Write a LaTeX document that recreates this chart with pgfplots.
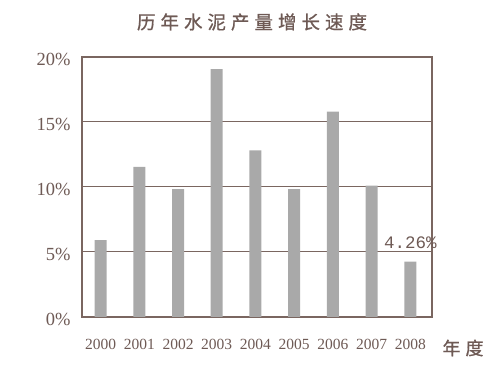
\documentclass[border=0pt]{standalone}
\usepackage{pgfplots}
\pgfplotsset{compat=1.18}
\usepackage{fontspec}
\setmainfont{Liberation Serif}
\newfontfamily\cjk[FakeBold=0.8]{Noto Sans CJK SC}
\newfontfamily\monof{Liberation Mono}
\definecolor{txt}{HTML}{6E5A55}
\definecolor{frm}{HTML}{7A6660}
\definecolor{bar}{HTML}{A9A9A9}
\begin{document}
\begin{tikzpicture}
\useasboundingbox (0pt,0pt) rectangle (500pt,371pt);
\begin{axis}[
  at={(82pt,54pt)}, anchor=south west,
  width=350pt, height=260pt, scale only axis,
  xmin=-0.48, xmax=8.56, ymin=0, ymax=20,
  ytick={0,5,10,15,20},
  yticklabels={0\%,5\%,10\%,15\%,20\%},
  xtick={0,1,2,3,4,5,6,7,8},
  xticklabels={2000,2001,2002,2003,2004,2005,2006,2007,2008},
  major tick length=0pt,
  /pgf/number format/assume math mode=true,
  axis line style={frm, line width=1.1pt},
  ymajorgrids, grid style={frm, line width=1pt},
  yticklabel style={font=\fontsize{18.5}{20}\selectfont, text=txt, anchor=east, xshift=-8pt, yshift=-2pt},
  xticklabel style={font=\fontsize{15.5}{17}\selectfont, text=txt, anchor=base, yshift=-33pt},
  clip=false,
]
\addplot[ybar, bar width=12pt, fill=bar, draw=none] coordinates {
  (0,5.91) (1,11.55) (2,9.84) (3,19.07) (4,12.82) (5,9.84) (6,15.8) (7,10.1) (8,4.26)
};
\node[anchor=south, text=txt, font=\monof\fontsize{17.5}{19}\selectfont, inner sep=0pt] at (axis cs:8,5.25) {4.26\%};
\end{axis}
\node[text=txt, font=\cjk\fontsize{18.5}{20}\selectfont] at (252pt,349pt) {历\hspace{5pt}年\hspace{5pt}水\hspace{5pt}泥\hspace{5pt}产\hspace{5pt}量\hspace{5pt}增\hspace{5pt}长\hspace{5pt}速\hspace{5pt}度};
\node[text=txt, font=\cjk\fontsize{18}{20}\selectfont] at (463pt,23pt) {年\hspace{5pt}度};
\end{tikzpicture}
\end{document}
